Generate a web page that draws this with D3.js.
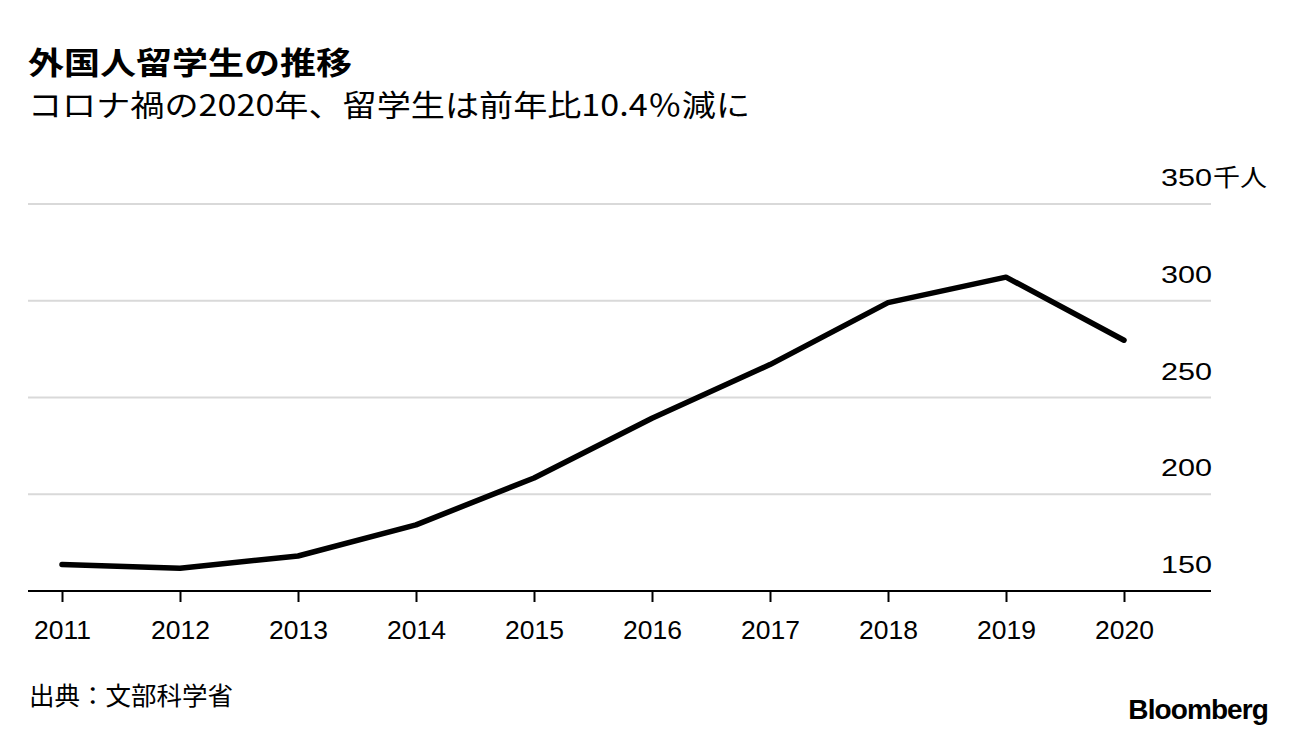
<!DOCTYPE html>
<html><head><meta charset="utf-8">
<script src="https://cdn.jsdelivr.net/npm/d3@7"></script>
<style>
body{margin:0;background:#fff;}
svg{display:block;font-family:"Liberation Sans","Noto Sans CJK JP",sans-serif;}
</style></head>
<body><svg id="c" width="1296" height="736"></svg>
<script>
const years = [2011,2012,2013,2014,2015,2016,2017,2018,2019,2020];
const students = [163.7,161.8,168.1,184.2,208.4,239.3,267.0,299.0,312.2,279.6];
const yTicks = [150,200,250,300,350];
const title = "外国人留学生の推移";
const subtitle = "コロナ禍の2020年、留学生は前年比10.4％減に";
const unit = "千人";
const source = "出典：文部科学省";

const svg = d3.select("#c");
const left = 28, right = 1211;
const x = d3.scalePoint().domain(years).range([62,1124]);
const y = d3.scaleLinear().domain([150,350]).range([591,204]);

svg.append("text").attr("x",28).attr("y",74).attr("font-size",31).attr("font-weight","bold")
  .attr("font-family","'Noto Sans CJK JP',sans-serif").attr("fill","#000")
  .attr("textLength",324).attr("lengthAdjust","spacingAndGlyphs").text(title);
svg.append("text").attr("x",28).attr("y",116).attr("font-size",30)
  .attr("font-family","'Noto Sans CJK JP',sans-serif").attr("fill","#000")
  .attr("textLength",722).attr("lengthAdjust","spacingAndGlyphs").text(subtitle);

// gridlines
svg.append("g").selectAll("line").data(yTicks.filter(d=>d>150)).join("line")
  .attr("x1",left).attr("x2",right).attr("y1",d=>y(d)).attr("y2",d=>y(d))
  .attr("stroke","#d9d9d9").attr("stroke-width",2);

// y labels
const yl = svg.append("g");
yl.selectAll("text").data(yTicks).join("text")
  .attr("x",1161).attr("y",d=>y(d)-18)
  .attr("font-size",24.5).attr("fill","#000")
  .attr("textLength",51).attr("lengthAdjust","spacingAndGlyphs").text(d=>d);
yl.append("text").attr("x",1213).attr("y",y(350)-18).attr("font-size",24)
  .attr("font-family","'Noto Sans CJK JP',sans-serif")
  .attr("textLength",54).attr("lengthAdjust","spacingAndGlyphs").text(unit);

// x axis
const xa = svg.append("g").attr("transform","translate(0,591)")
  .call(d3.axisBottom(x).tickSize(11).tickPadding(14).tickSizeOuter(0));
xa.select(".domain").remove();
xa.selectAll(".tick line").attr("stroke","#000").attr("stroke-width",2);
xa.selectAll(".tick text").attr("font-size",26.5).attr("fill","#000")
  .attr("y",48).attr("dy",0)
  .attr("font-family","'Liberation Sans',sans-serif");
svg.append("line").attr("x1",left).attr("x2",right).attr("y1",591).attr("y2",591)
  .attr("stroke","#000").attr("stroke-width",2);

// line
svg.append("path").datum(years.map((d,i)=>[d,students[i]]))
  .attr("fill","none").attr("stroke","#000").attr("stroke-width",5.5)
  .attr("stroke-linejoin","round").attr("stroke-linecap","round")
  .attr("d",d3.line().x(d=>x(d[0])).y(d=>y(d[1])));

svg.append("text").attr("x",29).attr("y",705).attr("font-size",25.5)
  .attr("font-family","'Noto Sans CJK JP',sans-serif").text(source);
svg.append("text").attr("x",1268).attr("y",719).attr("text-anchor","end")
  .attr("font-size",28).attr("font-weight","bold").attr("letter-spacing",-0.9)
  .attr("font-family","'Liberation Sans',sans-serif").text("Bloomberg");
</script></body></html>
